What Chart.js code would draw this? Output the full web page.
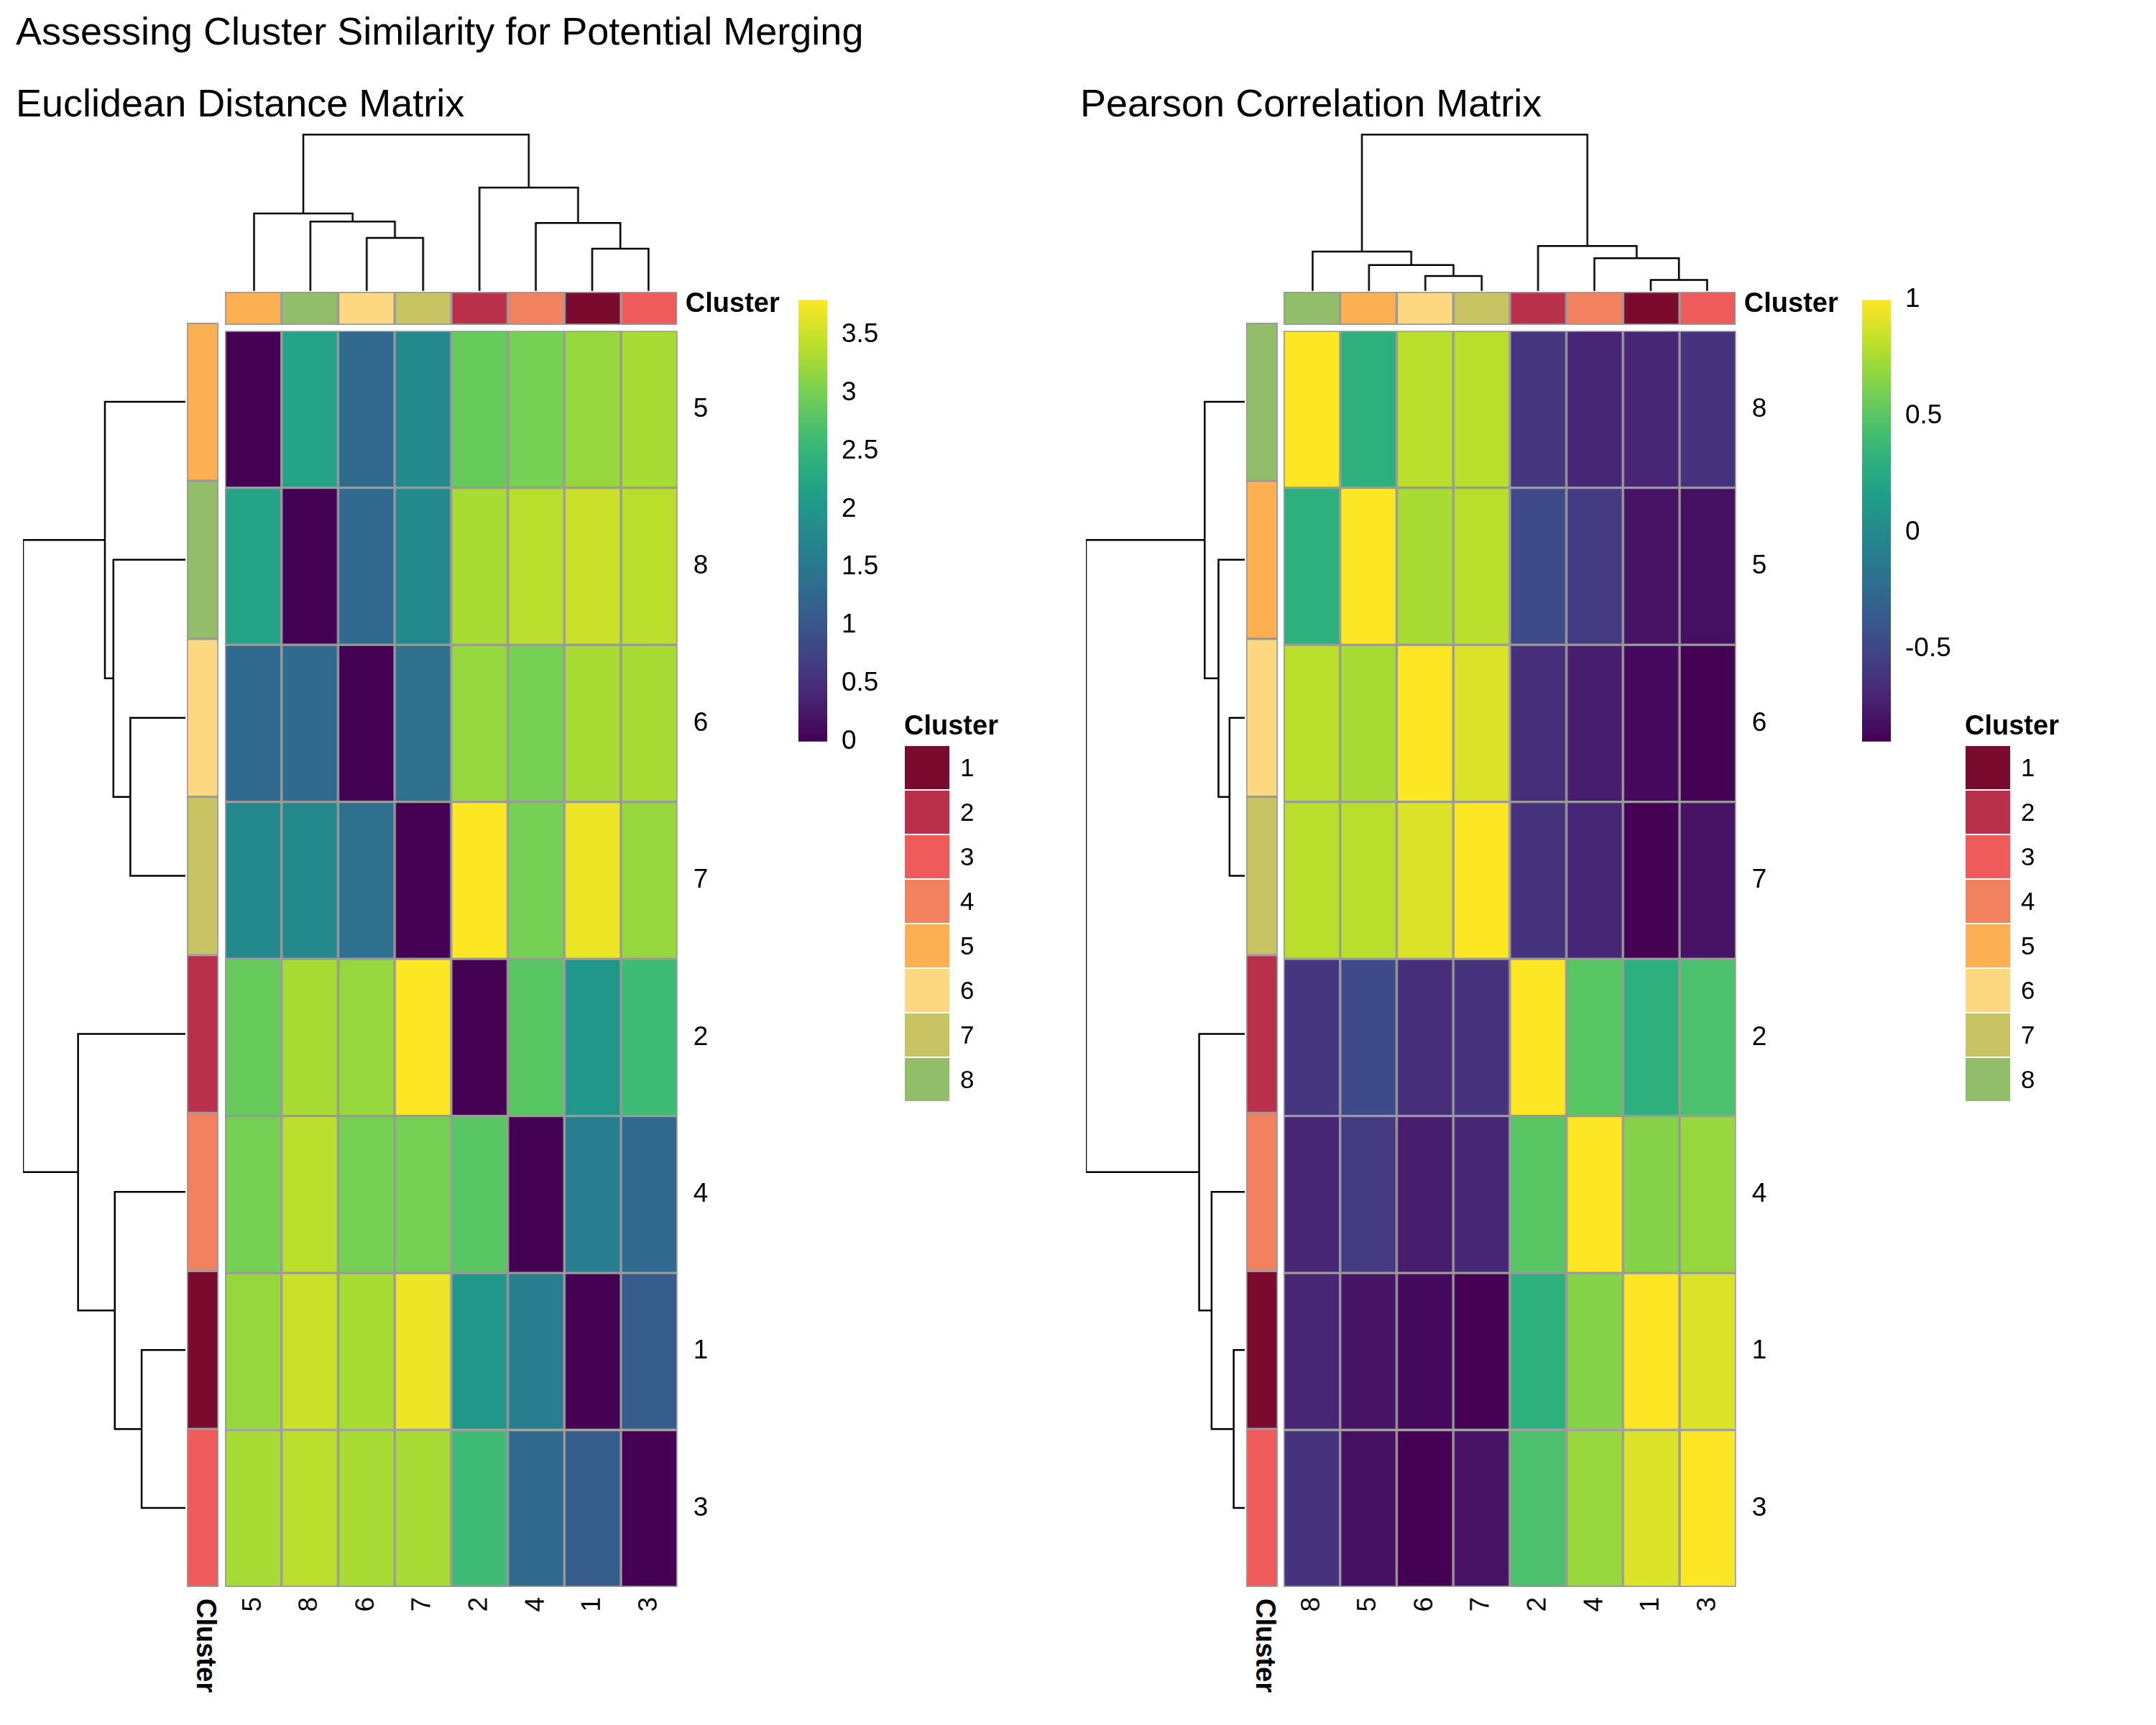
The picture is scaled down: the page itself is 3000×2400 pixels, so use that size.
<!DOCTYPE html>
<html>
<head>
<meta charset="utf-8">
<script src="https://cdn.jsdelivr.net/npm/chart.js@4/dist/chart.umd.min.js"></script>
<style>
  body { margin: 0; background: #fff; font-family: "Liberation Sans", Arial, sans-serif; }
  #page { position: relative; width: 3000px; height: 2400px; }
  .box { position: absolute; }
  .txt { position: absolute; color: #000; white-space: nowrap; }
  .legRow { display: flex; align-items: center; height: 62px; font-size: 35px; }
  .legSw { width: 64px; height: 62px; margin-right: 14px; box-sizing: border-box; border: 1px solid #fff; }
</style>
</head>
<body>
<div id="page"></div>
<script>
'use strict';

// cluster annotation colours
const clusterColors = {
  1: '#7a0a2e', 2: '#b8304a', 3: '#ef5a5a', 4: '#f2825f',
  5: '#fdb052', 6: '#fed880', 7: '#c9c463', 8: '#92be6c'
};

// Euclidean distance matrix (display order)
const euclidOrder = [5, 8, 6, 7, 2, 4, 1, 3];
const euclidValues = [
  [0.0, 2.2, 1.3, 1.8, 2.9, 3.0, 3.2, 3.3],
  [2.2, 0.0, 1.3, 1.8, 3.3, 3.4, 3.5, 3.4],
  [1.3, 1.3, 0.0, 1.4, 3.2, 3.0, 3.3, 3.3],
  [1.8, 1.8, 1.4, 0.0, 3.8, 3.0, 3.7, 3.2],
  [2.9, 3.3, 3.2, 3.8, 0.0, 2.8, 2.0, 2.6],
  [3.0, 3.4, 3.0, 3.0, 2.8, 0.0, 1.6, 1.3],
  [3.2, 3.5, 3.3, 3.7, 2.0, 1.6, 0.0, 1.1],
  [3.3, 3.4, 3.3, 3.3, 2.6, 1.3, 1.1, 0.0]
];
// merges: [child, child, height]; child < 100 = leaf position, >= 100 = earlier merge
const euclidMerges = [
  [2, 3, 39], [1, 100, 51], [0, 101, 57],
  [6, 7, 31], [5, 103, 50], [4, 104, 76], [102, 105, 115]
];
const euclidRange = [0, 3.8];
const euclidTicks = [0, 0.5, 1, 1.5, 2, 2.5, 3, 3.5];

// Pearson correlation matrix (display order)
const pearsonOrder = [8, 5, 6, 7, 2, 4, 1, 3];
const pearsonValues = [
  [1.00, 0.30, 0.80, 0.80, -0.60, -0.70, -0.70, -0.62],
  [0.30, 1.00, 0.75, 0.80, -0.48, -0.58, -0.80, -0.82],
  [0.80, 0.75, 1.00, 0.90, -0.65, -0.75, -0.85, -0.90],
  [0.80, 0.80, 0.90, 1.00, -0.62, -0.70, -0.90, -0.80],
  [-0.60, -0.48, -0.65, -0.62, 1.00, 0.50, 0.30, 0.45],
  [-0.70, -0.58, -0.75, -0.70, 0.50, 1.00, 0.65, 0.70],
  [-0.70, -0.80, -0.85, -0.90, 0.30, 0.65, 1.00, 0.90],
  [-0.62, -0.82, -0.90, -0.80, 0.45, 0.70, 0.90, 1.00]
];
const pearsonMerges = [
  [2, 3, 11], [1, 100, 19], [0, 101, 29],
  [6, 7, 8], [5, 103, 24], [4, 104, 33], [102, 105, 115]
];
const pearsonRange = [-0.9, 1];
const pearsonTicks = [-0.5, 0, 0.5, 1];

const viridisStops = ['#440154', '#482878', '#3e4a89', '#31688e', '#26828e',
  '#1f9e89', '#35b779', '#6ece58', '#b5de2b', '#fde725'];

const FONT = '"Liberation Sans", Arial, sans-serif';
Chart.defaults.font.family = FONT;
Chart.defaults.color = '#000';
Chart.defaults.animation = false;

function hexToRgb(h) {
  return [1, 3, 5].map(i => parseInt(h.slice(i, i + 2), 16));
}

function viridis(t) {
  t = Math.max(0, Math.min(1, t));
  const p = t * (viridisStops.length - 1);
  const i = Math.min(Math.floor(p), viridisStops.length - 2);
  const f = p - i;
  const a = hexToRgb(viridisStops[i]), b = hexToRgb(viridisStops[i + 1]);
  const c = a.map((v, k) => Math.round(v + (b[k] - v) * f));
  return `rgb(${c[0]},${c[1]},${c[2]})`;
}

const page = document.getElementById('page');

function addBox(left, top, width, height) {
  const div = document.createElement('div');
  div.className = 'box';
  Object.assign(div.style, { left: left + 'px', top: top + 'px', width: width + 'px', height: height + 'px' });
  const canvas = document.createElement('canvas');
  div.appendChild(canvas);
  page.appendChild(div);
  return canvas;
}

function addText(text, left, top, size, opts = {}) {
  const d = document.createElement('div');
  d.className = 'txt';
  d.textContent = text;
  Object.assign(d.style, { left: left + 'px', top: top + 'px', fontSize: size + 'px' }, opts);
  page.appendChild(d);
  return d;
}

function dendroSegments(merges, horizontal) {
  const pos = [], hgt = [];
  const pts = [];
  const get = c => c < 100 ? [c + 0.5, 0] : [pos[c - 100], hgt[c - 100]];
  merges.forEach(([a, b, h], i) => {
    const [xa, ha] = get(a), [xb, hb] = get(b);
    pos[i] = (xa + xb) / 2;
    hgt[i] = h;
    const seg = [[xa, ha], [xa, h], [xb, h], [xb, hb]];
    seg.forEach(([p, v]) => pts.push(horizontal ? { x: v, y: p } : { x: p, y: v }));
    pts.push({ x: null, y: null });
  });
  return pts;
}

const hidden = { display: false };
const TICK = 37;

function drawPanel(cfg) {
  const { order, values, merges, range, ticks, hx, hy, cw, ch, annoX, dendX } = cfg;
  const n = order.length;
  const W = cw * n, H = ch * n;
  const maxH = Math.max(...merges.map(m => m[2]));
  const pad = 25;
  const top = hy - 15, HH = H + 15;  // heatmap body top/height

  // heatmap: floating horizontal bars, one dataset per column
  const rowLabels = order.map(String);
  const datasets = order.map((c, j) => ({
    data: order.map(() => [j, j + 1]),
    backgroundColor: values.map(row => viridis((row[j] - range[0]) / (range[1] - range[0]))),
    borderColor: '#9a9a9a',
    borderWidth: 2,
    borderSkipped: false,
    grouped: false,
    barPercentage: 1,
    categoryPercentage: 1
  }));
  new Chart(addBox(hx, top - pad, W + 70, HH + 70 + pad), {
    type: 'bar',
    data: { labels: rowLabels, datasets },
    options: {
      indexAxis: 'y',
      responsive: true, maintainAspectRatio: false,
      layout: { padding: { top: pad } },
      plugins: { legend: hidden, tooltip: { enabled: false } },
      scales: {
        x: {
          type: 'linear', min: 0, max: n,
          afterBuildTicks: s => { s.ticks = order.map((c, j) => ({ value: j + 0.5 })); },
          afterFit: s => { s.height = 70; },
          ticks: { autoSkip: false, minRotation: 90, maxRotation: 90, padding: 6,
            font: { size: TICK }, callback: (v, i) => String(order[i]) },
          grid: { display: false }, border: { display: false }
        },
        y: {
          position: 'right',
          afterFit: s => { s.width = 70; },
          ticks: { font: { size: TICK }, padding: 14 },
          grid: { display: false }, border: { display: false }
        }
      }
    }
  });

  // column annotation
  const annoColors = order.map(c => clusterColors[c]);
  new Chart(addBox(hx, hy - 58, W, 46), {
    type: 'bar',
    data: { labels: rowLabels, datasets: [{ data: order.map(() => [0, 1]), backgroundColor: annoColors,
      borderColor: '#9a9a9a', borderWidth: 2, borderSkipped: false, barPercentage: 1, categoryPercentage: 1 }] },
    options: { responsive: true, maintainAspectRatio: false, layout: { padding: 0 },
      plugins: { legend: hidden, tooltip: { enabled: false } },
      scales: { x: hidden, y: { display: false, min: 0, max: 1 } } }
  });
  // row annotation
  new Chart(addBox(annoX, top, 44, HH), {
    type: 'bar',
    data: { labels: rowLabels, datasets: [{ data: order.map(() => [0, 1]), backgroundColor: annoColors,
      borderColor: '#9a9a9a', borderWidth: 2, borderSkipped: false, barPercentage: 1, categoryPercentage: 1 }] },
    options: { indexAxis: 'y', responsive: true, maintainAspectRatio: false, layout: { padding: 0 },
      plugins: { legend: hidden, tooltip: { enabled: false } },
      scales: { y: hidden, x: { display: false, min: 0, max: 1 } } }
  });

  // column dendrogram
  const lineDs = data => ({ type: 'scatter', data, showLine: true, spanGaps: false, borderColor: '#000',
    borderWidth: 2.5, pointRadius: 0, clip: false });
  new Chart(addBox(hx, hy - 58 - 220, W, 220), {
    type: 'scatter',
    data: { datasets: [lineDs(dendroSegments(merges, false))] },
    options: { responsive: true, maintainAspectRatio: false, layout: { padding: 0 },
      plugins: { legend: hidden, tooltip: { enabled: false } },
      scales: { x: { display: false, min: 0, max: n }, y: { display: false, min: 0, max: maxH } } }
  });
  // row dendrogram
  new Chart(addBox(dendX, top, annoX - dendX - 2, HH), {
    type: 'scatter',
    data: { datasets: [lineDs(dendroSegments(merges, true))] },
    options: { responsive: true, maintainAspectRatio: false, layout: { padding: 0 },
      plugins: { legend: hidden, tooltip: { enabled: false } },
      scales: { x: { display: false, min: 0, max: maxH, reverse: true },
        y: { display: false, min: 0, max: n, reverse: true } } }
  });

  // "Cluster" labels
  addText('Cluster', hx + W + 12, hy - 64, 38, { fontWeight: 'bold' });
  addText('Cluster', annoX + 48, top + HH + 16, 38, { fontWeight: 'bold', transform: 'rotate(90deg)', transformOrigin: 'left top' });

  // colour bar
  const cbX = cfg.cbX, cbTop = hy - 56, cbH = 633;
  new Chart(addBox(cbX, cbTop - 25, 40 + 110, cbH + 50), {
    type: 'bar',
    data: { labels: ['v'], datasets: [{ data: [range], barPercentage: 1, categoryPercentage: 1,
      backgroundColor: ctx => {
        const a = ctx.chart.chartArea;
        if (!a) return '#000';
        const g = ctx.chart.ctx.createLinearGradient(0, a.bottom, 0, a.top);
        for (let k = 0; k <= 20; k++) g.addColorStop(k / 20, viridis(k / 20));
        return g;
      } }] },
    options: { responsive: true, maintainAspectRatio: false, layout: { padding: { top: 25, bottom: 25 } },
      plugins: { legend: hidden, tooltip: { enabled: false } },
      scales: {
        x: { display: false },
        y: { position: 'right', min: range[0], max: range[1],
          afterBuildTicks: s => { s.ticks = ticks.map(v => ({ value: v })); },
          afterFit: s => { s.width = 110; },
          ticks: { font: { size: TICK }, padding: 12, callback: v => String(v) },
          grid: { display: false }, border: { display: false } }
      }
    }
  });

  // cluster legend
  const leg = document.createElement('div');
  leg.className = 'box';
  Object.assign(leg.style, { left: cfg.legX + 'px', top: '988px' });
  const t = document.createElement('div');
  t.textContent = 'Cluster';
  Object.assign(t.style, { fontSize: '38px', fontWeight: 'bold', marginBottom: '6px' });
  leg.appendChild(t);
  Object.keys(clusterColors).forEach(k => {
    const r = document.createElement('div');
    r.className = 'legRow';
    const sw = document.createElement('div');
    sw.className = 'legSw';
    sw.style.background = clusterColors[k];
    r.appendChild(sw);
    r.appendChild(document.createTextNode(k));
    leg.appendChild(r);
  });
  page.appendChild(leg);
}

addText('Assessing Cluster Similarity for Potential Merging', 22, 12, 54);
addText('Euclidean Distance Matrix', 22, 112, 54);
addText('Pearson Correlation Matrix', 1503, 112, 54);

drawPanel({ order: euclidOrder, values: euclidValues, merges: euclidMerges, range: euclidRange,
  ticks: euclidTicks, hx: 313, hy: 464, cw: 78.6, ch: 218, annoX: 260, dendX: 32, cbX: 1111, legX: 1258 });
drawPanel({ order: pearsonOrder, values: pearsonValues, merges: pearsonMerges, range: pearsonRange,
  ticks: pearsonTicks, hx: 1786, hy: 464, cw: 78.6, ch: 218, annoX: 1734, dendX: 1511, cbX: 2591, legX: 2734 });
</script>
</body>
</html>
